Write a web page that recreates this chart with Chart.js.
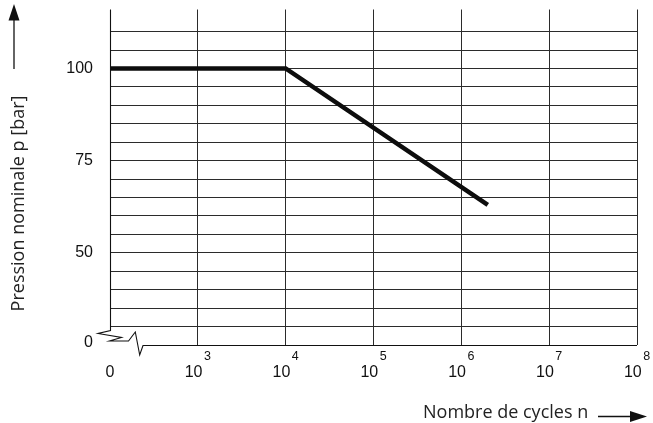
<!DOCTYPE html>
<html>
<head>
<meta charset="utf-8">
<style>
  html, body { margin: 0; padding: 0; background: #fff; }
  #wrap { width: 653px; height: 423px; position: relative; }
  .fl { position: absolute; left: -9999px; top: 0; }
</style>
<script src="https://cdn.jsdelivr.net/npm/chart.js@4.4.1/dist/chart.umd.min.js"></script>
</head>
<body>
<span class="fl" style="font-family:'Liberation Sans'">0123456789</span>
<span class="fl" style="font-family:'Open Sans'">Nombre</span>
<div id="wrap"><canvas id="c" width="653" height="423"></canvas></div>
<script>
// ---- data ----
const cycles = [0, 10000, 2000000];          // Nombre de cycles n
const pressure = [100, 100, 63];             // Pression nominale p [bar]
const xTickPositions = [0, 1, 2, 3, 4, 5, 6];
const xTickBase = ['0', '10', '10', '10', '10', '10', '10'];
const xTickExp = ['', '3', '4', '5', '6', '7', '8'];
const yTickValues = [0, 50, 75, 100];
const yTickLabels = ['0', '50', '75', '100'];
const yAxisTitle = 'Pression nominale p [bar]';
const xAxisTitle = 'Nombre de cycles n';

// axis break: values below yBreak are collapsed onto the bottom of the axis
const yBreak = 25;
const yMax = 116;

function cyclePos(n) { return n === 0 ? 0 : Math.log10(n) - 2; }

const points = cycles.map((n, i) => ({ x: cyclePos(n), y: pressure[i] }));

const GRID = '#2b2b2b';
const TICKFONT = '"Liberation Sans", Arimo, Helvetica, sans-serif';

const decor = {
  id: 'decor',
  afterDraw(chart) {
    const ctx = chart.ctx;
    const xs = chart.scales.x, ys = chart.scales.y;
    const L = xs.getPixelForValue(0);
    const R = xs.getPixelForValue(6);
    const B = ys.getPixelForValue(yBreak);
    const T = chart.chartArea.top;
    ctx.save();
    // left axis + break + bottom axis
    ctx.strokeStyle = '#111';
    ctx.lineWidth = 1.1;
    ctx.lineJoin = 'miter';
    ctx.beginPath();
    ctx.moveTo(L + 0.5, T);
    ctx.lineTo(L + 0.5, B - 14.5);
    ctx.lineTo(L - 12, B - 11.5);
    ctx.lineTo(L + 11.5, B - 7.5);
    ctx.lineTo(L - 0.5, B - 4);
    ctx.lineTo(L + 18.5, B - 4);
    ctx.lineTo(L + 25.3, B - 13);
    ctx.lineTo(L + 29.7, B + 10);
    ctx.lineTo(L + 33, B + 0.5);
    ctx.lineTo(R, B + 0.5);
    ctx.stroke();

    // y tick labels
    ctx.fillStyle = '#111';
    ctx.font = '16px ' + TICKFONT;
    ctx.textAlign = 'right';
    ctx.textBaseline = 'middle';
    yTickValues.forEach((v, i) => {
      const py = ys.getPixelForValue(Math.max(v, yBreak)) - (v < yBreak ? 2 : 0);
      ctx.fillText(yTickLabels[i], L - 17, py);
    });

    // x tick labels with superscripts
    xTickPositions.forEach((p, i) => {
      const px = xs.getPixelForValue(p);
      const base = xTickBase[i], ex = xTickExp[i];
      ctx.font = '16px ' + TICKFONT;
      const wb = ctx.measureText(base).width;
      ctx.font = '12.5px ' + TICKFONT;
      const gap = 1.5;
      const we = ex ? ctx.measureText(ex).width + gap : 0;
      const start = px - (wb + we) / 2;
      ctx.textAlign = 'left';
      ctx.textBaseline = 'alphabetic';
      ctx.font = '16px ' + TICKFONT;
      ctx.fillText(base, start, B + 32);
      if (ex) {
        ctx.font = '12.5px ' + TICKFONT;
        ctx.fillText(ex, start + wb + gap, B + 14.5);
      }
    });

    // axis titles
    ctx.fillStyle = '#222';
    ctx.font = '18px "Open Sans", sans-serif';
    ctx.textBaseline = 'alphabetic';
    ctx.textAlign = 'left';
    ctx.fillText(xAxisTitle, 423, 417.5);
    ctx.save();
    ctx.translate(23.5, 203.5);
    ctx.rotate(-Math.PI / 2);
    ctx.textAlign = 'center';
    ctx.fillText(yAxisTitle, 0, 0);
    ctx.restore();

    // arrows
    ctx.strokeStyle = '#111';
    ctx.fillStyle = '#111';
    ctx.lineWidth = 1.3;
    ctx.beginPath();
    ctx.moveTo(14, 69); ctx.lineTo(14, 18);
    ctx.stroke();
    ctx.beginPath();
    ctx.moveTo(14, 4); ctx.lineTo(19.5, 20.5); ctx.lineTo(8.5, 20.5); ctx.closePath();
    ctx.fill();
    ctx.beginPath();
    ctx.moveTo(598, 416.5); ctx.lineTo(632, 416.5);
    ctx.stroke();
    ctx.beginPath();
    ctx.moveTo(647, 416.5); ctx.lineTo(630, 411); ctx.lineTo(630, 422); ctx.closePath();
    ctx.fill();
    ctx.restore();
  }
};

function build() {
  new Chart(document.getElementById('c'), {
    type: 'line',
    data: {
      datasets: [{
        data: points,
        borderColor: '#0d0d0d',
        borderWidth: 4.5,
        pointRadius: 0,
        tension: 0,
        fill: false,
        borderCapStyle: 'butt',
        borderJoinStyle: 'miter'
      }]
    },
    options: {
      responsive: false,
      animation: false,
      devicePixelRatio: 1,
      layout: { padding: { left: 110, right: 16, top: 9.5, bottom: 78 } },
      plugins: { legend: { display: false }, tooltip: { enabled: false } },
      scales: {
        x: {
          type: 'linear', min: 0, max: 6,
          ticks: { display: false, stepSize: 1 },
          border: { display: false },
          grid: {
            drawTicks: false,
            lineWidth: 1,
            color: (c) => (c.tick && c.tick.value === 0) ? 'rgba(0,0,0,0)' : GRID
          }
        },
        y: {
          type: 'linear', min: yBreak, max: yMax,
          ticks: { display: false, stepSize: 5 },
          afterBuildTicks: (s) => { s.ticks = s.ticks.filter(t => Math.abs(t.value % 5) < 1e-9); },
          border: { display: false },
          grid: {
            drawTicks: false,
            lineWidth: 1,
            color: (c) => (c.tick && c.tick.value === yBreak) ? 'rgba(0,0,0,0)' : GRID
          }
        }
      }
    },
    plugins: [decor]
  });
}

let built = false;
function go() { if (!built) { built = true; build(); } }
if (document.fonts && document.fonts.load) {
  Promise.all([
    document.fonts.load('16px "Liberation Sans"'),
    document.fonts.load('12.5px "Liberation Sans"'),
    document.fonts.load('18px "Open Sans"')
  ]).then(go, go);
  setTimeout(go, 800);
} else {
  go();
}
</script>
</body>
</html>
